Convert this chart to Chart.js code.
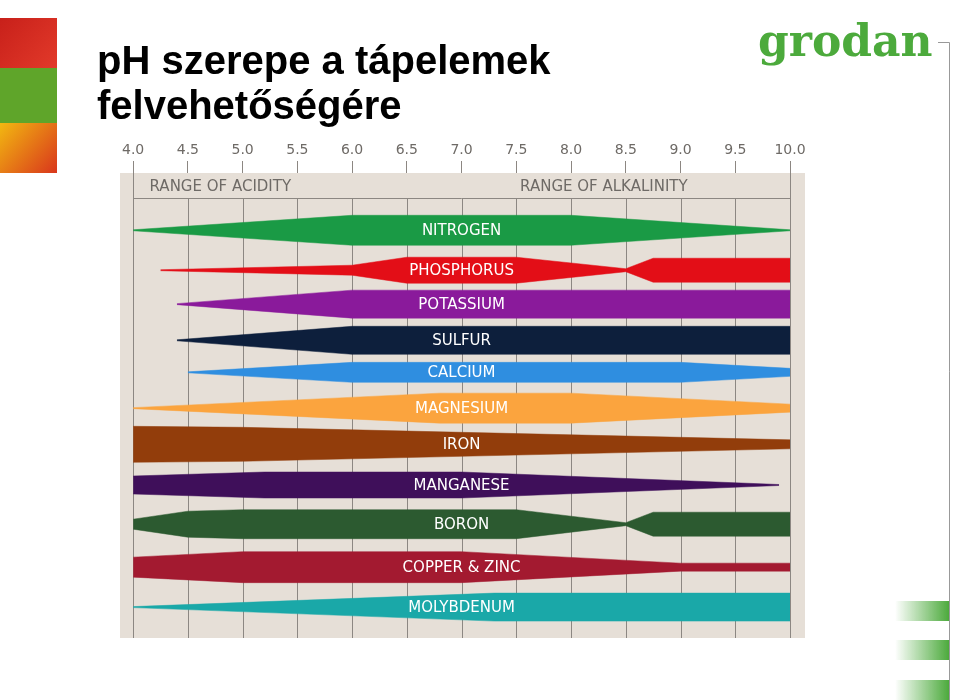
<!DOCTYPE html>
<html>
<head>
<meta charset="utf-8">
<script src="https://cdn.jsdelivr.net/npm/chart.js@4/dist/chart.umd.min.js"></script>
<style>
  html, body { margin: 0; padding: 0; background: #fff; }
  #wrap { width: 960px; height: 700px; position: relative; }
</style>
</head>
<body>
<div id="wrap"><canvas id="grafico"></canvas></div>
<script>
// pH tick labels
const phTicks = [4.0, 4.5, 5.0, 5.5, 6.0, 6.5, 7.0, 7.5, 8.0, 8.5, 9.0, 9.5, 10.0];

// nutrients (rows top to bottom)
const nutrients = ['NITROGEN', 'PHOSPHORUS', 'POTASSIUM', 'SULFUR', 'CALCIUM', 'MAGNESIUM',
  'IRON', 'MANGANESE', 'BORON', 'COPPER & ZINC', 'MOLYBDENUM'];
const colors = ['#1a9a45', '#e30e17', '#8a1a9b', '#0d1f3c', '#2f8ee0', '#fba43e',
  '#923d0b', '#3f0f5a', '#2c5a30', '#a31a30', '#1aa8a8'];
// row centre of each nutrient (row units)
const rowCenters = [0, 1.06, 1.96, 2.92, 3.77, 4.72, 5.68, 6.76, 7.80, 8.94, 10.0];

// band profile: pH points and half-thickness (relative availability) at each
const phPoints = [
  [4.0, 6.0, 8.0, 10.0],
  [4.25, 6.0, 6.5, 7.5, 8.5, 8.75, 10.0],
  [4.4, 6.0, 10.0],
  [4.4, 6.0, 10.0],
  [4.5, 6.0, 9.0, 10.0],
  [4.0, 6.8, 8.0, 10.0],
  [4.0, 5.0, 10.0],
  [4.0, 5.2, 7.0, 9.9],
  [4.0, 4.5, 5.0, 7.5, 8.5, 8.75, 10.0],
  [4.0, 5.0, 7.0, 9.0, 10.0],
  [4.0, 7.3, 10.0]
];
const halfWidths = [
  [0.5, 15, 15, 0.5],
  [0.5, 5, 13, 13, 1.5, 12, 12],
  [0.5, 14, 14],
  [0.5, 14, 14],
  [0.5, 10, 10, 4],
  [0.5, 15, 15, 4],
  [18, 17, 4.5],
  [9, 13, 13, 0.5],
  [5, 13, 14.5, 14.5, 1.5, 12, 12],
  [10, 15.5, 15.5, 4, 4],
  [0.5, 14, 14]
];

const ROW = 37.7; // px per row, converts half widths to row units

const datasets = [];
nutrients.forEach((n, i) => {
  const cy = rowCenters[i];
  const up = phPoints[i].map((x, j) => ({ x: x, y: cy - halfWidths[i][j] / ROW }));
  const lo = phPoints[i].map((x, j) => ({ x: x, y: cy + halfWidths[i][j] / ROW }));
  datasets.push({ label: n, data: up, borderColor: colors[i], borderWidth: 0.5, pointRadius: 0,
    backgroundColor: colors[i], fill: '+1', tension: 0 });
  datasets.push({ label: n + ' lo', data: lo, borderColor: colors[i], borderWidth: 0.5, pointRadius: 0,
    backgroundColor: colors[i], fill: false, tension: 0 });
});

const decor = {
  id: 'decor',
  beforeDatasetsDraw(chart) {
    const c = chart.ctx, a = chart.chartArea, xs = chart.scales.x, ys = chart.scales.y;
    // beige background
    c.save();
    c.fillStyle = '#e6dfd7';
    c.fillRect(a.left, a.top, a.right - a.left, a.bottom - a.top);
    const hy = Math.round(ys.getPixelForValue(-0.85)) + 0.5;
    c.strokeStyle = '#8c8782';
    c.lineWidth = 1;
    c.beginPath();
    c.moveTo(xs.getPixelForValue(4), hy); c.lineTo(xs.getPixelForValue(10), hy);
    phTicks.forEach(t => {
      const px = Math.round(xs.getPixelForValue(t)) + 0.5;
      const top = (t === 4 || t === 10) ? a.top : hy;
      c.moveTo(px, top); c.lineTo(px, a.bottom);
    });
    c.stroke();
    c.fillStyle = '#6e6a66';
    c.font = '15px "DejaVu Sans"';
    c.textBaseline = 'middle';
    c.textAlign = 'left';
    c.fillText('RANGE OF ACIDITY', xs.getPixelForValue(4.15), ys.getPixelForValue(-1.14));
    c.textAlign = 'center';
    c.fillText('RANGE OF ALKALINITY', xs.getPixelForValue(8.3), ys.getPixelForValue(-1.14));
    c.restore();

    // page decorations
    c.save();
    c.fillStyle = '#000';
    c.font = 'bold 40px "Liberation Sans"';
    c.textAlign = 'left';
    c.textBaseline = 'alphabetic';
    c.fillText('pH szerepe a tápelemek', 97, 74);
    c.fillText('felvehetőségére', 97, 119);
    // thumbnail
    let g = c.createLinearGradient(0, 18, 57, 68);
    g.addColorStop(0, '#c8201a'); g.addColorStop(1, '#e23a2a');
    c.fillStyle = g; c.fillRect(0, 18, 57, 50);
    c.fillStyle = '#5fa52a'; c.fillRect(0, 68, 57, 55);
    g = c.createLinearGradient(0, 123, 57, 173);
    g.addColorStop(0, '#f2b811'); g.addColorStop(1, '#d9361c');
    c.fillStyle = g; c.fillRect(0, 123, 57, 50);
    // logo
    c.fillStyle = '#4caa3c';
    c.font = 'bold 44px "DejaVu Serif"';
    c.fillText('grodan', 758, 56);
    c.strokeStyle = '#999'; c.lineWidth = 1;
    c.beginPath(); c.moveTo(938, 42.5); c.lineTo(949.5, 42.5); c.lineTo(949.5, 700); c.stroke();
    [601, 640, 680].forEach(y => {
      const gg = c.createLinearGradient(895, 0, 949, 0);
      gg.addColorStop(0, 'rgba(76,170,60,0)'); gg.addColorStop(1, '#4caa3c');
      c.fillStyle = gg; c.fillRect(895, y, 54, 20);
    });
    c.restore();
  },
  afterDatasetsDraw(chart) {
    const c = chart.ctx, xs = chart.scales.x, ys = chart.scales.y;
    c.save();
    c.fillStyle = '#fff';
    c.font = '15px "DejaVu Sans"';
    c.textAlign = 'center';
    c.textBaseline = 'middle';
    nutrients.forEach((n, i) => c.fillText(n, xs.getPixelForValue(7.0), ys.getPixelForValue(rowCenters[i]) + 1));
    c.restore();
  }
};

new Chart(document.getElementById('grafico'), {
  type: 'line',
  data: { datasets: datasets },
  plugins: [decor],
  options: {
    responsive: true,
    maintainAspectRatio: false,
    animation: false,
    layout: { padding: { left: 120, right: 155, top: 140, bottom: 62 } },
    plugins: { legend: { display: false }, tooltip: { enabled: false } },
    scales: {
      x: {
        type: 'linear', position: 'top', min: 3.88, max: 10.137,
        afterBuildTicks: s => { s.ticks = phTicks.map(v => ({ value: v })); },
        afterFit: s => { s.height = 33; },
        border: { display: false },
        grid: { drawOnChartArea: false, drawTicks: true, tickLength: 12, color: '#8c8782' },
        ticks: { color: '#6e6a66', font: { family: 'DejaVu Sans', size: 14 }, padding: 2,
          callback: v => Number(v).toFixed(1) }
      },
      y: { type: 'linear', reverse: true, min: -1.52, max: 10.82, display: false }
    }
  }
});
</script>
</body>
</html>
